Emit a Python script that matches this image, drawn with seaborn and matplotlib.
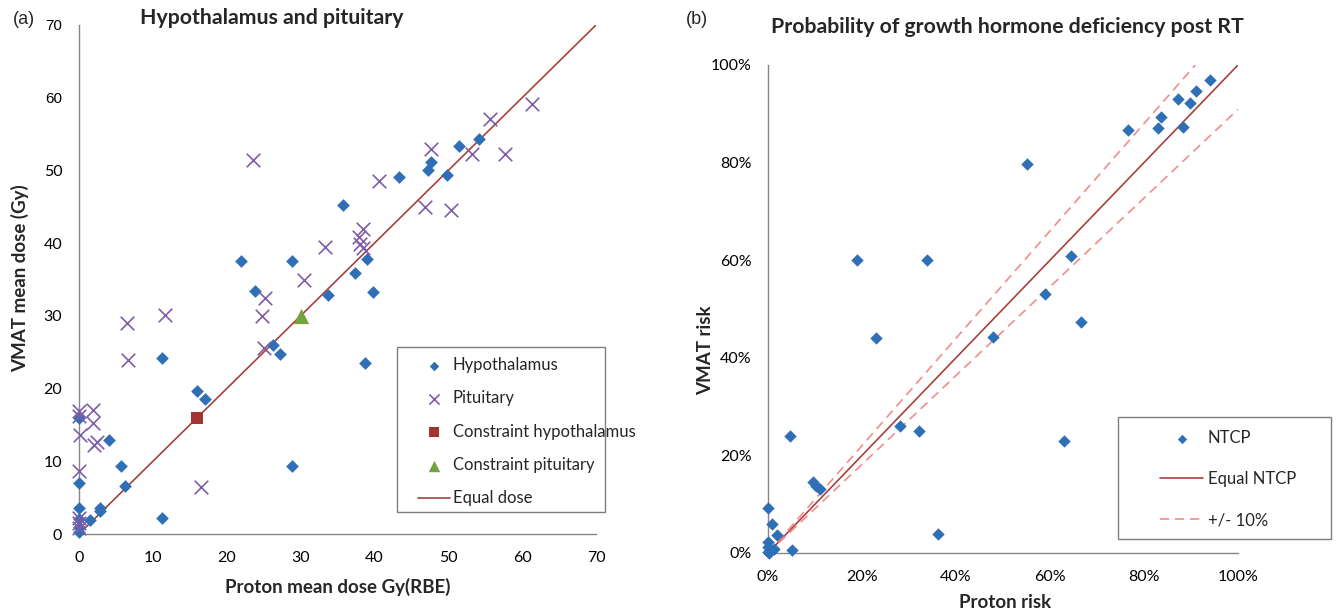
import matplotlib
matplotlib.use("Agg")
import matplotlib.pyplot as plt
from matplotlib.patches import Rectangle
from matplotlib.ticker import PercentFormatter
import seaborn as sns
import numpy as np

# ---------------- Panel (a) data ----------------
hypo_proton = [54.1, 51.4, 47.6, 47.3, 49.8, 43.3, 35.8, 21.9, 28.8, 39.0, 37.4, 23.8,
               33.7, 39.8, 11.2, 16.0, 17.1, 26.2, 27.2, 38.7, 28.9, 4.1, 5.7, 6.2,
               0.0, 0.0, 0.0, 2.8, 2.8, 1.5, 11.3, 0.0, 0.0, 0.0]
hypo_vmat = [54.3, 53.4, 51.1, 50.1, 49.4, 49.1, 45.3, 37.5, 37.6, 37.8, 35.9, 33.4,
             32.8, 33.3, 24.2, 19.7, 18.6, 26.0, 24.7, 23.5, 9.4, 12.9, 9.4, 6.6,
             7.0, 16.0, 3.6, 3.6, 3.1, 1.9, 2.2, 1.0, 0.3, 2.0]
pit_proton = [61.3, 55.7, 47.7, 53.2, 57.7, 23.5, 40.6, 46.9, 50.3, 38.4, 37.9, 38.1,
              38.4, 33.3, 30.4, 25.2, 24.8, 11.6, 6.5, 6.7, 25.1, 16.5, 0.0, 0.0,
              1.9, 1.9, 0.2, 2.0, 2.5, 0.0, 0.0, 0.0, 0.0]
pit_vmat = [59.2, 57.1, 52.9, 52.3, 52.3, 51.5, 48.5, 45.0, 44.5, 42.0, 40.9, 39.9,
            39.3, 39.5, 34.9, 32.5, 30.0, 30.1, 29.0, 23.9, 25.6, 6.5, 16.9, 16.2,
            17.0, 15.3, 13.6, 12.2, 12.7, 8.6, 2.2, 1.5, 0.8]
constraint_hypo_x = [16.0]
constraint_hypo_y = [16.0]
constraint_pit_x = [30.0]
constraint_pit_y = [30.0]
equal_dose = [0, 70]
dose_ticks = [0, 10, 20, 30, 40, 50, 60, 70]

# ---------------- Panel (b) data ----------------
ntcp_proton = [0.941, 0.910, 0.898, 0.872, 0.837, 0.829, 0.882, 0.766, 0.552, 0.189,
               0.339, 0.644, 0.590, 0.666, 0.229, 0.479, 0.281, 0.321, 0.046, 0.630,
               0.095, 0.102, 0.110, 0.000, 0.009, 0.019, 0.361, 0.050, 0.000, 0.000,
               0.005, 0.000, 0.003, 0.012]
ntcp_vmat = [0.969, 0.947, 0.923, 0.930, 0.894, 0.870, 0.872, 0.867, 0.798, 0.600,
             0.600, 0.609, 0.530, 0.474, 0.441, 0.442, 0.260, 0.251, 0.239, 0.230,
             0.145, 0.138, 0.131, 0.093, 0.060, 0.036, 0.039, 0.006, 0.023, 0.013,
             0.007, 0.002, 0.000, 0.009]
equal_ntcp = [0.0, 1.0]
plus10_x = [0.0, 1 / 1.1]
plus10_y = [0.0, 1.0]
minus10_x = [0.0, 1.0]
minus10_y = [0.0, 1 / 1.1]
risk_ticks = [0, 0.2, 0.4, 0.6, 0.8, 1.0]

# ---------------- styling ----------------
sns.set_style("white")
plt.rcParams['font.family'] = ['Lato', 'DejaVu Sans']
ARIAL = ['Liberation Sans', 'DejaVu Sans']
BLUE = "#2E6FB5"
PURPLE = "#7E5DA8"
RED_SQ = "#A33430"
GREEN = "#76A23C"
LINE = "#A8403C"
DASH = "#F28C8C"
SPINE = "#868686"
W, H = 1336, 615

fig = plt.figure(figsize=(13.36, 6.15), dpi=100)


def fx(px):
    return px / W


def fy(py):
    return 1 - py / H


ax1 = fig.add_axes([fx(79), fy(534), (596 - 79) / W, (534 - 25) / H])
ax2 = fig.add_axes([fx(768), fy(553), (1238 - 768) / W, (553 - 65) / H])

# ---- panel a ----
ax1.plot(equal_dose, equal_dose, color=LINE, lw=1.2, zorder=2, label="Equal dose")
sns.scatterplot(x=hypo_proton, y=hypo_vmat, ax=ax1, marker="D", s=42, color=BLUE,
                linewidth=0, clip_on=False, zorder=3, label="Hypothalamus")
sns.scatterplot(x=pit_proton, y=pit_vmat, ax=ax1, marker="x", s=95, color=PURPLE,
                linewidth=1.2, clip_on=False, zorder=3, label="Pituitary")
sns.scatterplot(x=constraint_hypo_x, y=constraint_hypo_y, ax=ax1, marker="s", s=85,
                color=RED_SQ, linewidth=0, clip_on=False, zorder=4,
                label="Constraint hypothalamus")
sns.scatterplot(x=constraint_pit_x, y=constraint_pit_y, ax=ax1, marker="^", s=120,
                color=GREEN, linewidth=0, clip_on=False, zorder=4,
                label="Constraint pituitary")

ax1.set_xlim(0, 70)
ax1.set_ylim(0, 70)
ax1.set_xticks(dose_ticks)
ax1.set_yticks(dose_ticks)

# ---- panel b ----
ax2.plot(equal_ntcp, equal_ntcp, color=LINE, lw=1.2, zorder=2, label="Equal NTCP")
ax2.plot(plus10_x, plus10_y, color=DASH, lw=1.2, dashes=(5.5, 3.5), zorder=2,
         label="+/- 10%")
ax2.plot(minus10_x, minus10_y, color=DASH, lw=1.2, dashes=(5.5, 3.5), zorder=2)
sns.scatterplot(x=ntcp_proton, y=ntcp_vmat, ax=ax2, marker="D", s=40, color=BLUE,
                linewidth=0, clip_on=False, zorder=3, label="NTCP")
ax2.set_xlim(0, 1)
ax2.set_ylim(0, 1)
ax2.set_xticks(risk_ticks)
ax2.set_yticks(risk_ticks)
ax2.xaxis.set_major_formatter(PercentFormatter(1.0, decimals=0))
ax2.yaxis.set_major_formatter(PercentFormatter(1.0, decimals=0))

for ax in (ax1, ax2):
    for s in ("top", "right"):
        ax.spines[s].set_visible(False)
    for s in ("left", "bottom"):
        ax.spines[s].set_color(SPINE)
        ax.spines[s].set_linewidth(1.0)
    ax.tick_params(axis="both", which="major", direction="out", length=4,
                   width=1.0, color=SPINE, labelsize=11.5, labelcolor="black")
    ax.tick_params(axis="x", pad=8.5)
    ax.tick_params(axis="y", pad=8)
    ax.set_facecolor("white")
    if ax.get_legend() is not None:
        ax.get_legend().remove()

# the two top labels of panel (a) are in an Arial-like face in the reference
fig.canvas.draw()
for lab in ax1.get_yticklabels():
    if lab.get_text() in ("60", "70"):
        lab.set_fontfamily(ARIAL)
        lab.set_fontsize(11)

# axis labels
ax1.set_xlabel("Proton mean dose Gy(RBE)", fontsize=13.5, fontweight="bold")
ax1.xaxis.set_label_coords(0.501, (534 - 587) / 509)
ax1.xaxis.label.set_va("center")
ax1.set_ylabel("VMAT mean dose (Gy)", fontsize=13.5, fontweight="bold")
ax1.yaxis.set_label_coords((20 - 79) / 517, (534 - 278) / 509)
ax1.yaxis.label.set_va("center")

ax2.set_xlabel("Proton risk", fontsize=13.5, fontweight="bold")
ax2.xaxis.set_label_coords((1005 - 768) / 470, (553 - 603) / 488)
ax2.xaxis.label.set_va("center")
ax2.set_ylabel("VMAT risk", fontsize=13.5, fontweight="bold")
ax2.yaxis.set_label_coords((706 - 768) / 470, (553 - 350) / 488)
ax2.yaxis.label.set_va("center")

# titles
fig.text(fx(272), fy(18), "Hypothalamus and pituitary", fontsize=15.3,
         fontweight="bold", ha="center", va="center")
fig.text(fx(1007), fy(27), "Probability of growth hormone deficiency post RT",
         fontsize=15.3, fontweight="bold", ha="center", va="center")
fig.text(fx(24), fy(20), "(a)", fontsize=13, ha="center", va="center", family=ARIAL)
fig.text(fx(697), fy(20), "(b)", fontsize=13, ha="center", va="center", family=ARIAL)

# legends (frame drawn as rectangle)
fig.add_artist(Rectangle((fx(397), fy(512)), (605 - 397) / W, (512 - 347) / H,
                         transform=fig.transFigure, fill=True, facecolor="white",
                         edgecolor="#7F7F7F", lw=1.0, zorder=5))
h1, l1 = ax1.get_legend_handles_labels()
order1 = ["Hypothalamus", "Pituitary", "Constraint hypothalamus",
          "Constraint pituitary", "Equal dose"]
hd1 = [h1[l1.index(k)] for k in order1]
leg1 = fig.legend(hd1, order1, loc="upper left",
                  bbox_to_anchor=(fx(418), fy(357)), bbox_transform=fig.transFigure,
                  frameon=False, fontsize=12, borderpad=0, borderaxespad=0,
                  labelspacing=1.04, handlelength=1.9, handletextpad=0.2,
                  markerscale=0.75)
leg1.set_zorder(6)

fig.add_artist(Rectangle((fx(1118), fy(539)), (1331 - 1118) / W, (539 - 417) / H,
                         transform=fig.transFigure, fill=True, facecolor="white",
                         edgecolor="#7F7F7F", lw=1.0, zorder=5))
h2, l2 = ax2.get_legend_handles_labels()
order2 = ["NTCP", "Equal NTCP", "+/- 10%"]
hd2 = [h2[l2.index(k)] for k in order2]
leg2 = fig.legend(hd2, order2, loc="upper left",
                  bbox_to_anchor=(fx(1160), fy(430)), bbox_transform=fig.transFigure,
                  frameon=False, fontsize=12, borderpad=0, borderaxespad=0,
                  labelspacing=1.5, handlelength=2.6, handletextpad=0.25,
                  markerscale=0.75)
leg2.set_zorder(6)

fig.savefig("out.png", dpi=100, facecolor="white")
